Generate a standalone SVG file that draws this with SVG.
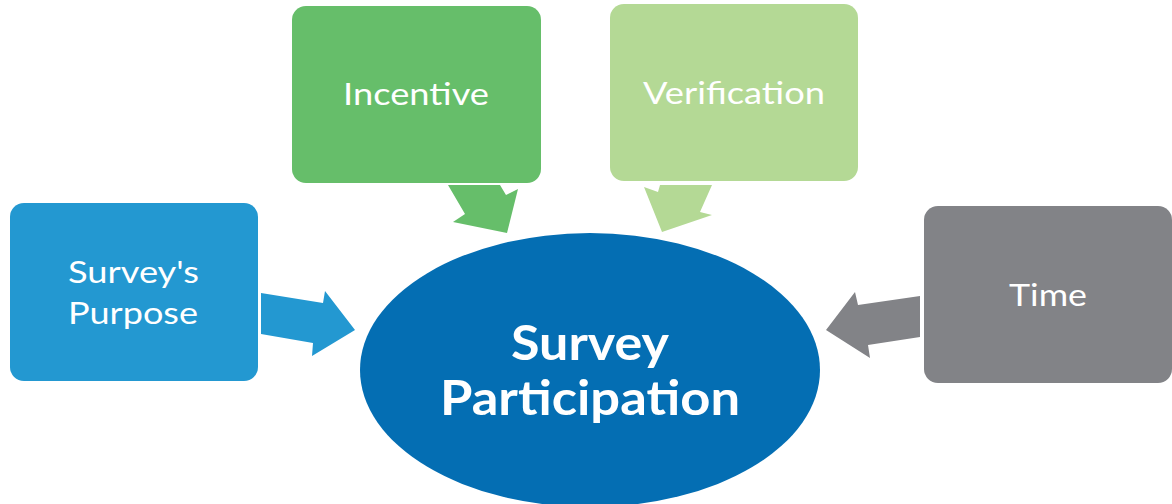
<svg xmlns="http://www.w3.org/2000/svg" width="1172" height="504" viewBox="0 0 1172 504">
<style>
.lbl{font-family:Lato,"Open Sans",sans-serif;font-size:30.5px;fill:#fff;text-anchor:middle}
.big{font-family:Lato,"Open Sans",sans-serif;font-size:48px;font-weight:bold;fill:#fff;text-anchor:middle}
</style>
<rect width="1172" height="504" fill="#fff"/>
<g id="connectors">
<polygon fill="#2398D1" points="261,293 323,303 325,291 355,330 312,356 313,343 261,334"/>
<polygon fill="#66BE6A" points="448,185 500,185 506,195 518,189 507,233 453,222 465,214"/>
<polygon fill="#B4D995" points="644,187 658,192 660,185 712,185 700,212 712,215 662,232"/>
<polygon fill="#828387" points="920,296 858,305 855,292 826,330 870,358 868,345 920,337"/>
</g>
<g id="purpose">
<rect x="10" y="203" width="248" height="178" rx="14" fill="#2398D1"/>
<text class="lbl" x="133.5" y="283" textLength="131" lengthAdjust="spacingAndGlyphs">Survey's</text>
<text class="lbl" x="133" y="324" textLength="130" lengthAdjust="spacingAndGlyphs">Purpose</text>
</g>
<g id="incentive">
<rect x="292" y="6" width="249" height="177" rx="14" fill="#66BE6A"/>
<text class="lbl" x="416" y="105" textLength="146" lengthAdjust="spacingAndGlyphs">Incentive</text>
</g>
<g id="verification">
<rect x="610" y="4" width="248" height="177" rx="14" fill="#B4D995"/>
<text class="lbl" x="734" y="104" textLength="182" lengthAdjust="spacingAndGlyphs">Verification</text>
</g>
<g id="time">
<rect x="924" y="206" width="248" height="177" rx="14" fill="#828387"/>
<text class="lbl" x="1048" y="306" textLength="78" lengthAdjust="spacingAndGlyphs">Time</text>
</g>
<g id="participation">
<ellipse cx="590" cy="370" rx="230" ry="137" fill="#046EB3"/>
<text class="big" x="590" y="360" textLength="158" lengthAdjust="spacingAndGlyphs">Survey</text>
<text class="big" x="590" y="415" textLength="300" lengthAdjust="spacingAndGlyphs">Participation</text>
</g>
</svg>
